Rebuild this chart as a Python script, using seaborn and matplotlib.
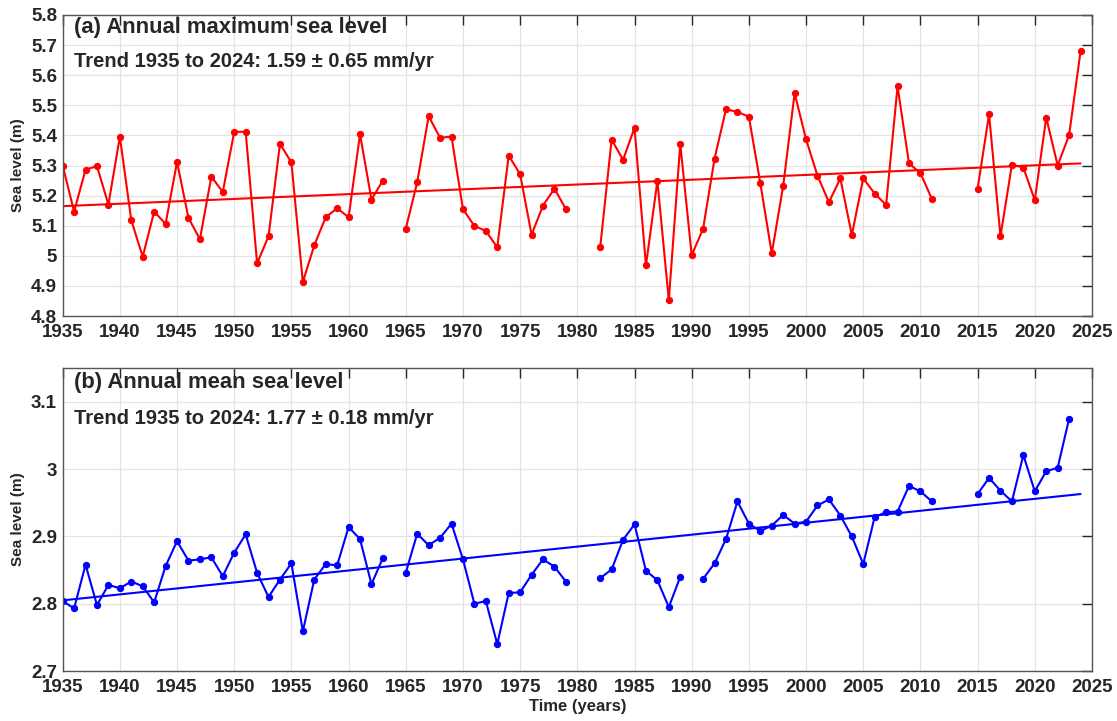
import numpy as np
import pandas as pd
import matplotlib
matplotlib.use('Agg')
import matplotlib.pyplot as plt
import matplotlib.ticker as mticker
import seaborn as sns

# Tahun dan nilai (NaN = tidak ada data)
years = list(range(1935, 2025))

max_level = [5.300, 5.147, 5.286, 5.298, 5.170, 5.396, 5.118, 4.997, 5.147, 5.106,
             5.312, 5.126, 5.055, 5.263, 5.212, 5.412, 5.412, 4.975, 5.065, 5.372,
             5.310, 4.913, 5.035, 5.128, 5.158, 5.128, 5.404, 5.187, 5.250, np.nan,
             5.090, 5.244, 5.464, 5.392, 5.396, 5.155, 5.099, 5.083, 5.028, 5.333,
             5.271, 5.070, 5.167, 5.223, 5.155, np.nan, np.nan, 5.028, 5.386, 5.319,
             5.425, 4.968, 5.249, 4.852, 5.372, 5.002, 5.090, 5.323, 5.487, 5.478,
             5.462, 5.241, 5.008, 5.232, 5.540, 5.387, 5.266, 5.178, 5.257, 5.069,
             5.257, 5.207, 5.169, 5.563, 5.307, 5.275, 5.189, np.nan, np.nan, np.nan,
             5.223, 5.470, 5.065, 5.303, 5.293, 5.185, 5.459, 5.300, 5.401, 5.679]

mean_level = [2.804, 2.793, 2.858, 2.798, 2.828, 2.823, 2.833, 2.826, 2.802, 2.856,
              2.893, 2.864, 2.866, 2.869, 2.841, 2.876, 2.903, 2.846, 2.810, 2.836,
              2.860, 2.759, 2.836, 2.859, 2.857, 2.914, 2.896, 2.829, 2.868, np.nan,
              2.846, 2.904, 2.887, 2.898, 2.919, 2.866, 2.800, 2.804, 2.740, 2.816,
              2.817, 2.843, 2.866, 2.855, 2.833, np.nan, np.nan, 2.838, 2.851, 2.895,
              2.918, 2.849, 2.835, 2.795, 2.840, np.nan, 2.837, 2.860, 2.896, 2.952,
              2.919, 2.908, 2.916, 2.932, 2.919, 2.922, 2.946, 2.955, 2.931, 2.900,
              2.859, 2.929, 2.936, 2.937, 2.975, 2.967, 2.952, np.nan, np.nan, np.nan,
              2.963, 2.987, 2.968, 2.952, 3.021, 2.967, 2.997, 3.002, 3.075, np.nan]

# Garis tren (awal dan akhir)
trend_years = [1935, 2024]
trend_max = [5.165, 5.307]
trend_mean = [2.805, 2.963]

panel_titles = ['(a) Annual maximum sea level', '(b) Annual mean sea level']
trend_texts = ['Trend 1935 to 2024: 1.59 \u00b1 0.65 mm/yr',
               'Trend 1935 to 2024: 1.77 \u00b1 0.18 mm/yr']


def make_df(vals):
    df = pd.DataFrame({'Tahun': years, 'Nilai': vals})
    df['Segmen'] = df['Nilai'].isna().cumsum()
    return df.dropna()


sns.set_style('white')
plt.rcParams['font.family'] = ['Liberation Sans', 'DejaVu Sans']

fig = plt.figure(figsize=(11.17, 7.21), dpi=100)
ax1 = fig.add_axes([0.0561, 0.5617, 0.9215, 0.4175])
ax2 = fig.add_axes([0.0561, 0.0693, 0.9215, 0.4200])

setup = [
    (ax1, max_level, trend_max, 'red', (4.8, 5.8), np.arange(4.8, 5.81, 0.1), 0.957, 0.847),
    (ax2, mean_level, trend_mean, 'blue', (2.7, 3.15), np.arange(2.7, 3.11, 0.1), 0.954, 0.835),
]

for i, (ax, vals, trend, col, ylim, yticks, ty1, ty2) in enumerate(setup):
    df = make_df(vals)
    sns.lineplot(data=df, x='Tahun', y='Nilai', units='Segmen', estimator=None,
                 color=col, marker='o', markersize=4.5, markeredgecolor=col,
                 linewidth=1.5, ax=ax)
    tdf = pd.DataFrame({'Tahun': trend_years, 'Nilai': trend})
    sns.lineplot(data=tdf, x='Tahun', y='Nilai', color=col, linewidth=1.5, ax=ax)

    ax.set_xlim(1935, 2025)
    ax.set_ylim(*ylim)
    ax.set_xticks(range(1935, 2026, 5))
    ax.set_yticks(yticks)
    ax.yaxis.set_major_formatter(mticker.FuncFormatter(lambda v, p: '%g' % round(v, 2)))
    ax.grid(True, color='#e3e3e3', linewidth=0.9)
    ax.set_axisbelow(True)
    ax.tick_params(direction='in', top=True, right=True, length=7, width=1,
                   colors='#262626', labelsize=13.5)
    ax.tick_params(axis='x', pad=6)
    ax.tick_params(axis='y', pad=4)
    for lab in ax.get_xticklabels() + ax.get_yticklabels():
        lab.set_fontweight('bold')
    for sp in ax.spines.values():
        sp.set_color('#555555')
        sp.set_linewidth(1.0)
    ax.set_ylabel('Sea level (m)', fontsize=11, fontweight='bold', labelpad=4)
    ax.set_xlabel('')
    ax.text(0.011, ty1, panel_titles[i], transform=ax.transAxes, fontsize=15.8,
            fontweight='bold', va='center', ha='left')
    ax.text(0.011, ty2, trend_texts[i], transform=ax.transAxes,
            fontsize=14.5, fontweight='bold', va='center', ha='left')

ax2.set_xlabel('Time (years)', fontsize=12, fontweight='bold', labelpad=2)

fig.savefig('out.png', dpi=100)
